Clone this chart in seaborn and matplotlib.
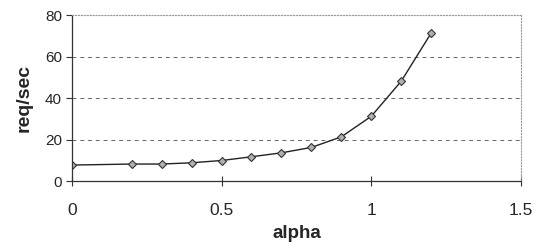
import numpy as np
import pandas as pd
import matplotlib
matplotlib.use("Agg")
import matplotlib.pyplot as plt
import seaborn as sns

# data
alpha = [0.0, 0.2, 0.3, 0.4, 0.5, 0.6, 0.7, 0.8, 0.9, 1.0, 1.1, 1.2]
req_sec = [7.7, 8.2, 8.2, 8.8, 9.9, 11.7, 13.6, 16.2, 21.3, 31.2, 48.1, 71.3]
x_ticks = [0, 0.5, 1, 1.5]
x_tick_labels = ["0", "0.5", "1", "1.5"]
y_ticks = [0, 20, 40, 60, 80]

df = pd.DataFrame({"alpha": alpha, "req/sec": req_sec})

sns.set_style("white")
plt.rcParams['font.family'] = ['Liberation Sans', 'DejaVu Sans']

fig = plt.figure(figsize=(5.36, 2.46), dpi=100)
ax = fig.add_axes([0.134, 0.264, 0.838, 0.675])

sns.lineplot(data=df, x="alpha", y="req/sec", ax=ax, color="#222222",
             linewidth=1.0, marker="D", markersize=4.5,
             markerfacecolor="#b0b0b0", markeredgecolor="#333333",
             markeredgewidth=0.8)

ax.set_xlim(0, 1.5)
ax.set_ylim(0, 80)
ax.set_xticks(x_ticks)
ax.set_xticklabels(x_tick_labels)
ax.set_xticks(np.arange(0, 1.51, 0.1), minor=True)
ax.set_yticks(y_ticks)

for y in y_ticks[1:-1]:
    ax.axhline(y, color="#666666", linestyle=(0, (4, 4)), linewidth=0.7, zorder=0)

for side in ["top", "right"]:
    ax.spines[side].set_color("#999999")
    ax.spines[side].set_linestyle(":")
    ax.spines[side].set_linewidth(0.8)
for side in ["left", "bottom"]:
    ax.spines[side].set_color("#333333")
    ax.spines[side].set_linewidth(0.9)

ax.tick_params(axis="x", which="major", direction="inout", length=7, width=0.8,
               color="#333333", labelsize=12.5, pad=12)
ax.tick_params(axis="x", which="minor", direction="in", length=3, width=0.6,
               color="#333333")
ax.tick_params(axis="y", which="major", direction="out", length=4, width=0.8,
               color="#333333", labelsize=11, pad=3, left=True)
ax.tick_params(axis="x", bottom=True)

ax.set_xlabel("alpha", fontsize=13.5, fontweight="bold", labelpad=5)
ax.set_ylabel("req/sec", fontsize=14, fontweight="bold", labelpad=9)

fig.savefig("out.png", dpi=100)
